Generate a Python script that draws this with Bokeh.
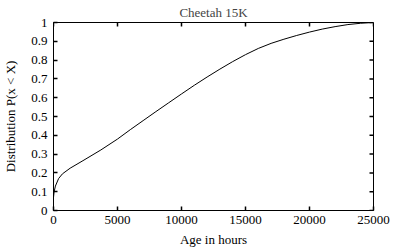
from bokeh.plotting import figure
from bokeh.models import Range1d, FixedTicker, Title
from bokeh.embed import file_html
from bokeh.resources import INLINE

# Data
age_hours = [0, 50, 150, 400, 700, 1300, 2300, 3700, 5000, 6000, 7000,
             8000, 9000, 10000, 11000, 12000, 13000, 14000, 15000, 16000, 17000,
             18000, 19000, 20000, 21000, 22000, 23000, 24000, 25000]
cdf = [0.07, 0.10, 0.13, 0.17, 0.195, 0.225, 0.265, 0.322, 0.38, 0.43, 0.478,
       0.526, 0.573, 0.62, 0.666, 0.71, 0.752, 0.792, 0.829, 0.862, 0.889,
       0.911, 0.931, 0.949, 0.965, 0.978, 0.989, 0.996, 1.0]
x_ticks = [0, 5000, 10000, 15000, 20000, 25000]
y_ticks = [0, 0.1, 0.2, 0.3, 0.4, 0.5, 0.6, 0.7, 0.8, 0.9, 1.0]
y_tick_labels = {0: "0", 0.1: "0.1", 0.2: "0.2", 0.3: "0.3", 0.4: "0.4", 0.5: "0.5",
                 0.6: "0.6", 0.7: "0.7", 0.8: "0.8", 0.9: "0.9", 1.0: "1"}
x_max = 25000
y_max = 1.0

FONT = "Liberation Serif"
FS = "13px"
FRAME_W, FRAME_H = 320, 191
TICK_PX = 4
TICK_W = 1.5

p = figure(width=393, height=249, output_backend="svg", toolbar_location=None,
           x_range=Range1d(0, x_max), y_range=Range1d(0, y_max),
           min_border_left=53, min_border_right=20, min_border_top=19, min_border_bottom=39)
p.title = Title(text="Cheetah 15K", align="center", text_font=FONT,
                text_font_size=FS, text_font_style="normal", offset=0,
                text_line_height=0.9)
p.title.standoff = 5
p.grid.visible = False
p.outline_line_color = "black"
p.outline_line_width = 1
p.background_fill_color = "white"
p.border_fill_color = "white"

p.line(age_hours, cdf, line_color="black", line_width=1)

# mirrored inward ticks on the top and right edges
dy = y_max * TICK_PX / FRAME_H
dx = x_max * TICK_PX / FRAME_W
p.segment(x0=x_ticks, y0=[y_max] * len(x_ticks), x1=x_ticks,
          y1=[y_max - dy] * len(x_ticks), line_color="black", line_width=TICK_W)
p.segment(x0=[x_max] * len(y_ticks), y0=y_ticks, x1=[x_max - dx] * len(y_ticks),
          y1=y_ticks, line_color="black", line_width=TICK_W)

def style(ax):
    ax.axis_line_color = "black"
    ax.major_tick_in = TICK_PX
    ax.major_tick_out = 0
    ax.minor_tick_line_color = None
    ax.major_tick_line_color = "black"
    ax.major_tick_line_width = TICK_W
    ax.major_label_text_font = FONT
    ax.major_label_text_font_size = FS
    ax.major_label_text_color = "black"
    ax.axis_label_text_font = FONT
    ax.axis_label_text_font_size = FS
    ax.axis_label_text_font_style = "normal"
    ax.axis_label_text_color = "black"

xa = p.xaxis[0]
xa.ticker = FixedTicker(ticks=x_ticks)
xa.axis_label = "Age in hours"
xa.axis_label_standoff = 5
xa.major_label_standoff = 5
style(xa)

ya = p.yaxis[0]
ya.ticker = FixedTicker(ticks=y_ticks)
ya.major_label_overrides = y_tick_labels
ya.axis_label = "Distribution P(x < X)"
ya.axis_label_standoff = 10
ya.major_label_standoff = 6
style(ya)

open("out.html", "w").write(file_html(p, INLINE))
